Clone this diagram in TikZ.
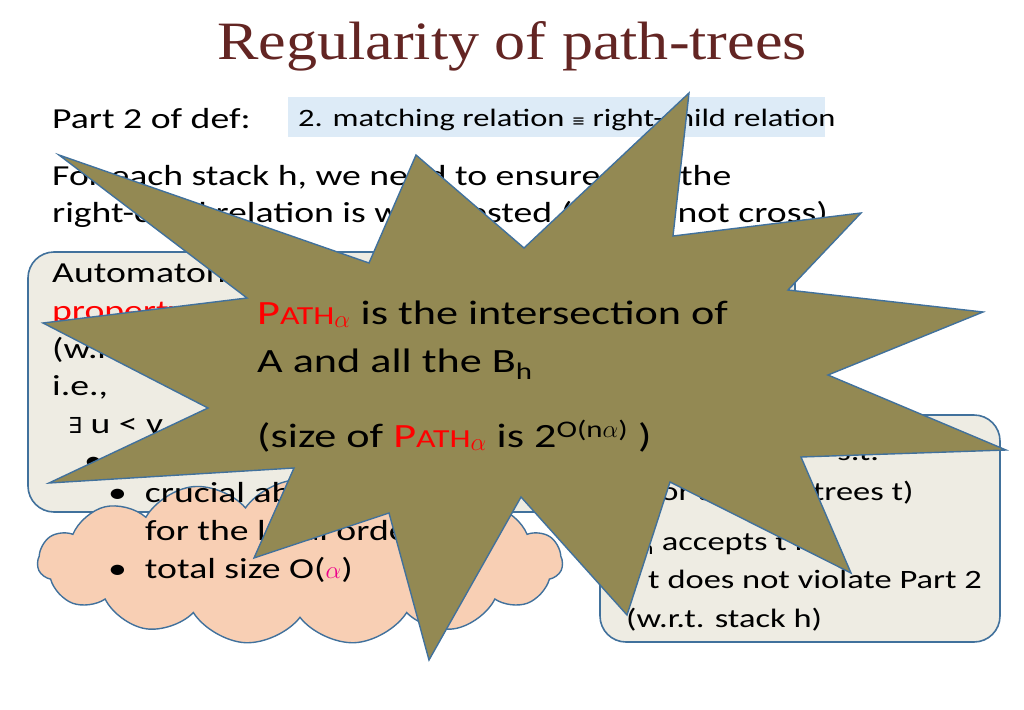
\documentclass[tikz,border=0pt]{standalone}
\usepackage{fontspec}
\setmainfont{Carlito}[FakeStretch=1.3]
\newfontfamily\titlefont{Liberation Serif}[FakeStretch=1.15]
\newfontfamily\symfont{DejaVu Sans}
\usetikzlibrary{shapes.symbols}
\definecolor{edge}{HTML}{41719C}
\definecolor{boxfill}{HTML}{EEECE3}
\definecolor{peach}{HTML}{F8CFB4}
\definecolor{starfill}{HTML}{938953}
\definecolor{bluebg}{HTML}{DDEBF7}
\definecolor{titlered}{HTML}{632523}
\tikzset{
  txt/.style={anchor=base west,inner sep=0pt,font=\fontsize{29}{32}\selectfont},
  rtxt/.style={anchor=base west,inner sep=0pt,font=\fontsize{26.5}{30}\selectfont},
  startxt/.style={anchor=base west,inner sep=0pt,font=\fontsize{34}{38}\selectfont},
  panel/.style={draw=edge,line width=1.6pt,fill=boxfill,rounded corners=26pt},
}
\newcommand{\pathA}{\textcolor{red}{P{\fontsize{26}{28}\selectfont ATH}\textsubscript{\fontsize{26}{28}\selectfont$\alpha$}}}
\begin{document}
\begin{tikzpicture}[x=1pt,y=-1pt]
\useasboundingbox (0,0) rectangle (1024,709);
\node[inner sep=0pt,font=\titlefont\fontsize{54}{58}\selectfont,text=titlered] (title) at (512,46) {Regularity of path-trees};
\node[txt] (part) at (52,128) {Part 2 of def:};
\node[fill=bluebg,minimum width=537,minimum height=40,inner sep=0pt] (match) at (556.5,117) {};
\node[txt,font=\fontsize{25}{28}\selectfont] (mt) at (298,126) {2. matching relation {\symfont\fontsize{16}{18}\selectfont ≡} right-child relation};
\node[txt] (l1) at (52,185) {For each stack h, we need to ensure that the};
\node[txt] (l2) at (52,222) {right-child relation is well-nested (\textit{i.e.} do not cross)};
% left panel
\draw[panel] (28,252) rectangle (795,512);
\node[txt] (a1) at (52,282) {Automaton A checks this, i.e., the automaton};
\node[txt,text=red] (a2) at (52,320) {property with the};
\node[txt] (a3) at (52,358) {(w.r.t. stack h)};
\node[txt] (a4) at (52,395) {i.e.,};
\node[txt] (a5) at (68,433) {{\symfont\fontsize{22}{24}\selectfont ∃} u < v};
\node[txt] (a6) at (84,470) {\textbullet};
% cloud
\node[cloud,cloud puffs=15,cloud puff arc=110,aspect=3,draw=edge,line width=1.4pt,fill=peach,minimum width=525,minimum height=165,inner sep=0pt] (cloud) at (300,562) {};
\node[txt] (c1) at (108,502) {\textbullet\hspace{18pt}crucial abstraction};
\node[txt] (c2) at (145,540) {for the local order <};
\node[txt] (c3) at (108,578) {\textbullet\hspace{18pt}total size O(\textcolor{magenta}{$\alpha$})};
% right panel
\draw[panel] (600,415) rectangle (1000,642);
\node[rtxt] (b1) at (770,460) {2\textsuperscript{O($\alpha$)} s.t.};
\node[rtxt] (b2) at (640,500) {(for all path-trees t)};
\node[rtxt] (b3) at (622,550) {B\textsubscript{h} accepts t iff};
\node[rtxt] (b4) at (648,588) {t does not violate Part 2};
\node[rtxt] (b5) at (626,627) {(w.r.t. stack h)};
% star
\draw[draw=edge,line width=1.4pt,fill=starfill,line join=miter]
 (59,155) -- (369,263) -- (416,155) -- (524,248) -- (689,93) -- (673,236)
 -- (861,213) -- (788,290) -- (983,312) -- (828,375) -- (1006,450) -- (801,457)
 -- (851,573) -- (670,482) -- (627,615) -- (521,497) -- (429,660) -- (389,513)
 -- (254,558) -- (294,468) -- (49,483) -- (208,408) -- (43,323) -- (247,298) -- cycle;
\node[startxt] (s1) at (257,324) {\pathA\ is the intersection of};
\node[startxt] (s2) at (257,372) {A and all the B\textsubscript{h}};
\node[startxt] (s3) at (257,447) {(size of \pathA\ is 2\textsuperscript{O(n$\alpha$)} )};
\end{tikzpicture}
\end{document}
